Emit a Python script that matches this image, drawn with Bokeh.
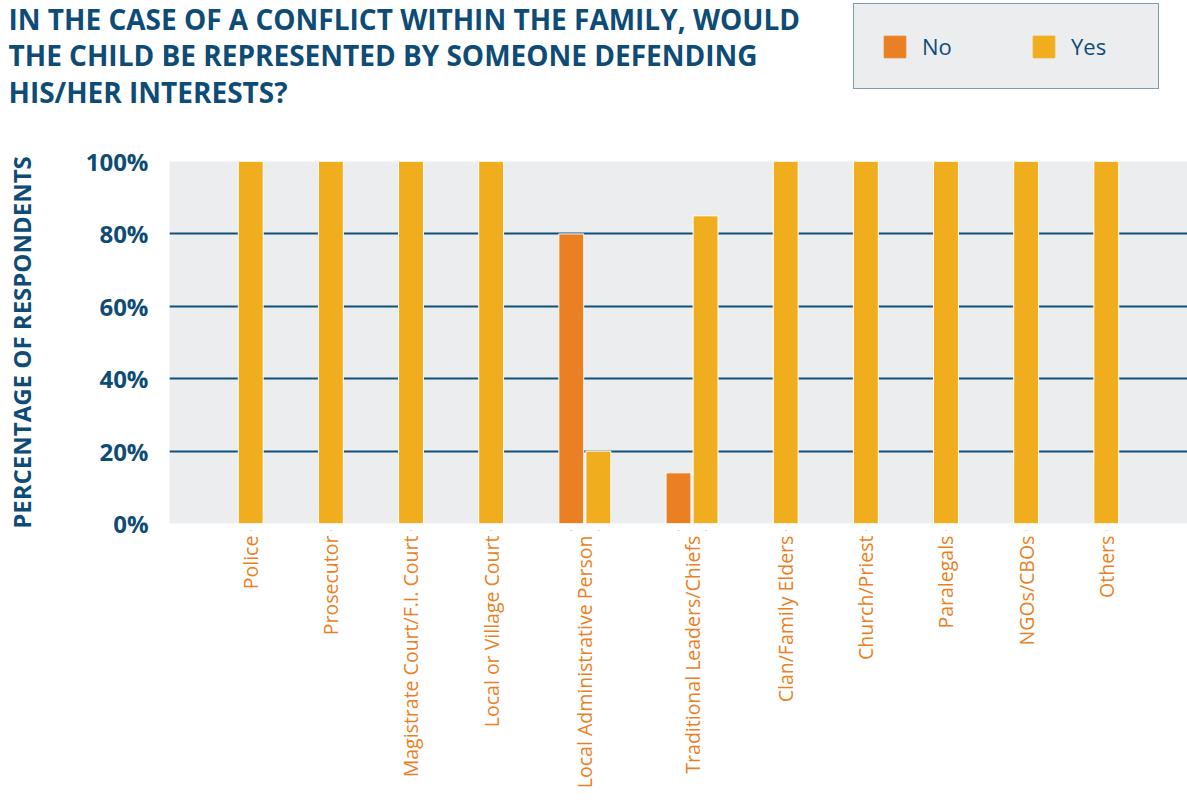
import math
from bokeh.plotting import figure
from bokeh.layouts import column, row
from bokeh.models import FactorRange, FixedTicker, PrintfTickFormatter, ColumnDataSource, Range1d
from bokeh.core.properties import value
from bokeh.embed import file_html
from bokeh.resources import INLINE

categories = ["Police", "Prosecutor", "Magistrate Court/F.I. Court", "Local or Village Court",
              "Local Administrative Person", "Traditional Leaders/Chiefs", "Clan/Family Elders",
              "Church/Priest", "Paralegals", "NGOs/CBOs", "Others"]
no_values = [0, 0, 0, 0, 80, 14, 0, 0, 0, 0, 0]
yes_values = [100, 100, 100, 100, 20, 85, 100, 100, 100, 100, 100]
series = ["No", "Yes"]
y_ticks = [0, 20, 40, 60, 80, 100]
title_lines = ["IN THE CASE OF A CONFLICT WITHIN THE FAMILY, WOULD",
               "THE CHILD BE REPRESENTED BY SOMEONE DEFENDING",
               "HIS/HER INTERESTS?"]

BLUE = "#0E4C75"
ORANGE = "#EB7F23"
YELLOW = "#F0AD1E"
GRAY = "#ECEDEF"
colors = [ORANGE, YELLOW]

W = 1187
TW = 853
HEAD_H = 140
MAIN_H = 664


def blank(width, height, y0=0):
    f = figure(width=width, height=height, output_backend="svg", toolbar_location=None,
               x_range=Range1d(0, width), y_range=Range1d(y0, y0 + height), min_border=0,
               x_axis_location=None, y_axis_location=None, title=None)
    f.xgrid.visible = False
    f.ygrid.visible = False
    f.outline_line_color = None
    f.background_fill_color = "white"
    f.border_fill_color = "white"
    return f


# ---------------- header: title ----------------
tfig = blank(TW, HEAD_H)
line_gap = 36.6
tfig.text(x=[8] * len(title_lines),
          y=[HEAD_H - 18.3 - line_gap * i for i in range(len(title_lines))],
          text=title_lines, text_font=value("Open Sans"), text_font_style="bold",
          text_font_size=value("28px"), text_color=BLUE,
          text_align="left", text_baseline="middle")

# ---------------- header: legend (series bars bound to it lie outside its view) ----------------
lfig = blank(W - TW, HEAD_H, y0=1000)
idx = list(range(len(categories)))
for s, c, vals in zip(series, colors, [no_values, yes_values]):
    lfig.vbar(x=idx, top=vals, width=0.9, fill_color=c, line_color=c, legend_label=s)

lg = lfig.legend[0]
lg.orientation = "horizontal"
lg.location = (0, 51)
lg.background_fill_color = GRAY
lg.background_fill_alpha = 1
lg.border_line_color = BLUE
lg.border_line_width = 1.5
lg.padding = 27
lg.margin = 0
lg.spacing = 48
lg.glyph_width = 27
lg.glyph_height = 27
lg.label_standoff = 14
lg.label_width = 60
lg.label_text_font = "Open Sans"
lg.label_text_font_size = "22px"
lg.label_text_color = BLUE

# ---------------- main chart ----------------
factors = []
for c, n, y in zip(categories, no_values, yes_values):
    if n > 0:
        factors.append((c, "No"))
    if y > 0:
        factors.append((c, "Yes"))

no_src = ColumnDataSource(dict(x=[(c, "No") for c, n in zip(categories, no_values) if n > 0],
                               top=[n for n in no_values if n > 0]))
yes_src = ColumnDataSource(dict(x=[(c, "Yes") for c, y in zip(categories, yes_values) if y > 0],
                                top=[y for y in yes_values if y > 0]))

p = figure(width=W, height=MAIN_H, output_backend="svg", toolbar_location=None,
           x_range=FactorRange(*factors, group_padding=1.96, range_padding=2.5,
                               range_padding_units="absolute"),
           y_range=(0, 100), min_border_left=169, min_border_right=0,
           min_border_top=21, min_border_bottom=281, title=None)

p.vbar(x="x", top="top", width=0.92, source=no_src, fill_color=colors[0],
       line_color="white", line_width=1)
p.vbar(x="x", top="top", width=0.92, source=yes_src, fill_color=colors[1],
       line_color="white", line_width=1)

p.background_fill_color = GRAY
p.border_fill_color = "white"
p.outline_line_color = None

p.xgrid.grid_line_color = None
p.ygrid.grid_line_color = "#11507A"
p.ygrid.grid_line_width = 2
p.ygrid.ticker = FixedTicker(ticks=y_ticks)

p.yaxis.ticker = FixedTicker(ticks=y_ticks)
p.yaxis.formatter = PrintfTickFormatter(format="%d%%")
p.yaxis.axis_line_color = None
p.yaxis.major_tick_line_color = None
p.yaxis.minor_tick_line_color = None
p.yaxis.major_label_text_font = "Open Sans"
p.yaxis.major_label_text_font_style = "bold"
p.yaxis.major_label_text_font_size = "24px"
p.yaxis.major_label_text_color = BLUE
p.yaxis.major_label_standoff = 15
p.yaxis.axis_label = "PERCENTAGE OF RESPONDENTS"
p.yaxis.axis_label_text_font = "Open Sans"
p.yaxis.axis_label_text_font_style = "bold"
p.yaxis.axis_label_text_font_size = "24px"
p.yaxis.axis_label_text_color = BLUE
p.yaxis.axis_label_standoff = 45

xa = p.xaxis[0]
xa.axis_line_color = None
xa.major_tick_line_color = None
xa.minor_tick_line_color = None
xa.major_label_overrides = {"No": "", "Yes": ""}
xa.major_label_text_font_size = "1px"
xa.major_label_standoff = 1
xa.separator_line_color = None
xa.group_text_font = "Open Sans"
xa.group_text_font_size = "19.5px"
xa.group_text_font_style = "normal"
xa.group_text_color = ORANGE
xa.group_label_orientation = math.pi / 2

layout = column(row(tfig, lfig, spacing=0), p, spacing=0)
open("out.html", "w").write(file_html(layout, INLINE))
